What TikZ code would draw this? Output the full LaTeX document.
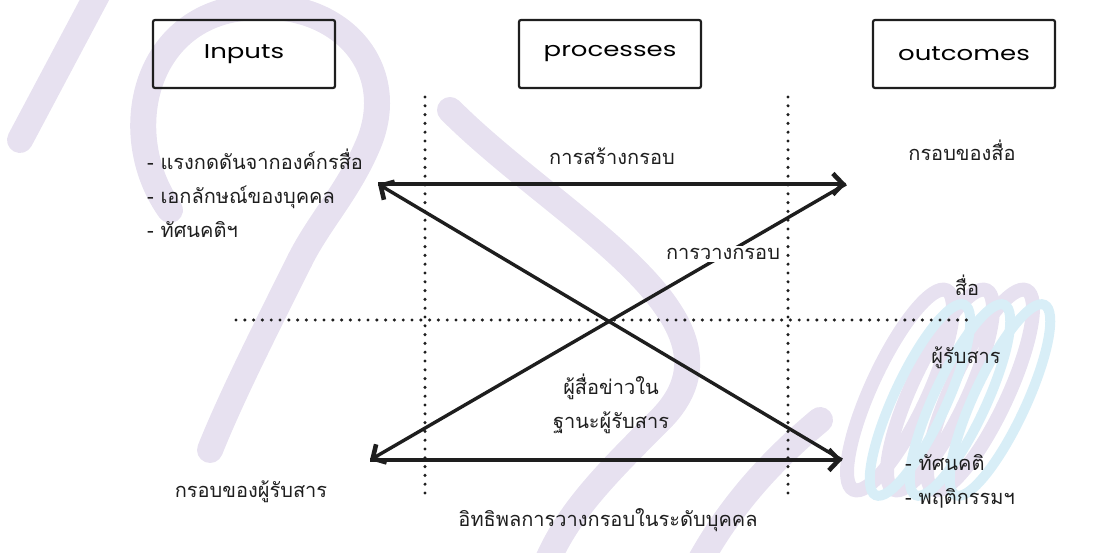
\documentclass[tikz,border=0pt]{standalone}
\usepackage{fontspec}
\usetikzlibrary{arrows.meta}
\newfontfamily\thaifont[Script=Thai]{Loma}
\newfontfamily\boxfont{Poppins}[FakeStretch=1.3]
\definecolor{wmlilac}{RGB}{231,225,240}
\definecolor{wmblue}{RGB}{216,238,247}
\definecolor{ink}{RGB}{30,30,30}

\tikzset{
  headbox/.style={draw=ink, line width=2.2pt, rounded corners=2pt, minimum width=182pt, minimum height=68pt, font=\boxfont\fontsize{20}{24}\selectfont},
  thaitext/.style={font=\thaifont\fontsize{20}{24}\selectfont, inner sep=1pt, text=ink},
  thailist/.style={thaitext, align=left, font=\thaifont\fontsize{20}{34}\selectfont},
  flow/.style={line width=3.4pt, draw=ink, -{Straight Barb[length=10pt,width=21pt,line width=4.6pt]}},
  dotline/.style={line width=3.4pt, dash pattern=on 0pt off 8.8pt, line cap=round, draw=ink},
  wmstroke/.style={line width=26pt, line cap=round, draw=wmlilac},
}

\begin{document}
\begin{tikzpicture}[x=1pt, y=-1pt]
\useasboundingbox (0,0) rectangle (1094,553);

% watermark in the background
\draw[wmstroke] (20,140) -- (105,-20);
\draw[wmstroke] (170,210) .. controls (120,140) and (140,30) .. (230,10) .. controls (330,-10) and (400,60) .. (370,140) .. controls (350,190) and (320,220) .. (300,260);
\draw[wmstroke] (300,260) .. controls (260,340) and (230,400) .. (210,450);
\draw[wmstroke] (450,110) .. controls (560,220) and (760,320) .. (660,420) .. controls (600,480) and (560,520) .. (540,580);
\draw[wmstroke] (690,580) .. controls (720,520) and (760,470) .. (820,420);
\foreach \dx in {0,40,80}
  \draw[line width=14pt, draw=wmlilac, rotate around={-25:(900+\dx,390)}] (900+\dx,390) ellipse (28pt and 110pt);
\foreach \dx in {20,60,100}
  \draw[line width=10pt, draw=wmblue, rotate around={-25:(900+\dx,400)}] (900+\dx,400) ellipse (26pt and 105pt);

% les cases du haut
\node[headbox] (inputs) at (244,54) {Inputs};
\node[headbox] (processes) at (610,54) {processes};
\node[headbox] (outcomes) at (964,54) {outcomes};

% lignes pointillées
\coordinate (v1top) at (425,97);
\coordinate (v1bot) at (425,495);
\coordinate (v2top) at (788,97);
\coordinate (v2bot) at (788,495);
\coordinate (hleft) at (236,320);
\coordinate (hright) at (970,320);
\draw[dotline] (v1top) -- (v1bot);
\draw[dotline] (v2top) -- (v2bot);
\draw[dotline] (hleft) -- (hright);

% les flèches
\coordinate (tl) at (378,184);
\coordinate (tr) at (846,184);
\coordinate (bl) at (370,460);
\coordinate (br) at (842,460);
\draw[flow] (tl) -- (tr);
\draw[flow] (br) -- (tl);
\draw[flow] (tr) -- (bl);
\draw[flow] (bl) -- (br);

% les textes
\node[thailist, anchor=west] (inlist) at (146,193)
  {- แรงกดดันจากองค์กรสื่อ\\- เอกลักษณ์ของบุคคล\\- ทัศนคติฯ};
\node[thaitext] (build) at (612,156) {การสร้างกรอบ};
\node[thaitext] (mediaframe) at (962,150) {กรอบของสื่อ};
\node[thaitext, fill=white, inner sep=2pt] (framing) at (723,254) {การวางกรอบ};
\node[thaitext] (media) at (967,285) {สื่อ};
\node[thaitext] (receiver) at (966,358) {ผู้รับสาร};
\node[thailist, align=center] (journo) at (611,404) {ผู้สื่อข่าวใน\\ฐานะผู้รับสาร};
\node[thaitext] (recvframe) at (251,492) {กรอบของผู้รับสาร};
\node[thaitext] (effect) at (608,520) {อิทธิพลการวางกรอบในระดับบุคคล};
\node[thailist, anchor=west] (outlist) at (904,481) {- ทัศนคติ\\- พฤติกรรมฯ};

\end{tikzpicture}
\end{document}
